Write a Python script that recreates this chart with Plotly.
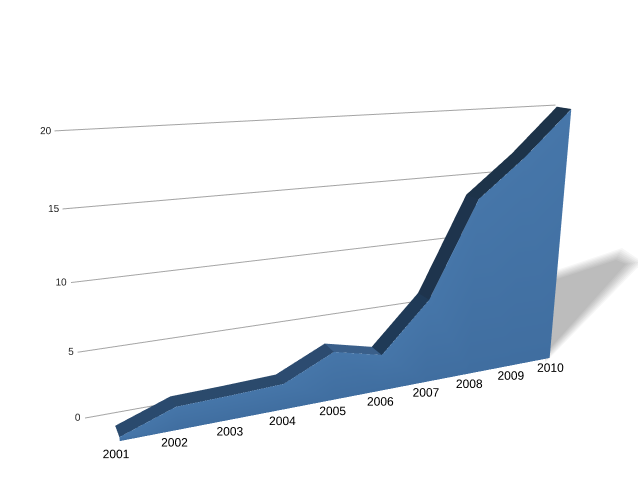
import plotly.graph_objects as go

years = [2001, 2002, 2003, 2004, 2005, 2006, 2007, 2008, 2009, 2010]
values = [0.3, 1.75, 1.85, 2.0, 3.8, 2.9, 6.7, 14.0, 16.85, 20.2]
z_ticks = [0, 5, 10, 15, 20]
strip_colors = ["#2a4a6e", "#2b4a6c", "#2b4a6c", "#2c4b70", "#3a5f8a",
                "#1f3a57", "#1e344d", "#1d3349", "#1d3349"]
strip_depth = 0.4
x_range = [2000.55, 2010.49]
z_range = [0, 21]

W, H = 670, 679
OFFSET_Y = 62
n = len(years)

# front face
fx, fy, fz = [], [], []
for yr, v in zip(years, values):
    fx += [yr, yr]; fy += [0, 0]; fz += [0, v]
fc = ["#4676a9" if j % 2 else "#406ea0" for j in range(2 * n)]
fi, fj, fk = [], [], []
for s in range(n - 1):
    a = 2 * s
    fi += [a, a + 1]; fj += [a + 2, a + 2]; fk += [a + 1, a + 3]

# top strip
tx, ty, tz = [], [], []
for yr, v in zip(years, values):
    tx += [yr, yr]; ty += [0, strip_depth]; tz += [v, v]
ti, tj, tk, tc = [], [], [], []
for s in range(n - 1):
    a = 2 * s
    ti += [a, a + 1]; tj += [a + 2, a + 2]; tk += [a + 1, a + 3]
    tc += [strip_colors[s]] * 2

flat = dict(ambient=1, diffuse=0, specular=0, roughness=1, fresnel=0)

fig = go.Figure()
# gridlines on the back wall
for t in z_ticks:
    fig.add_trace(go.Scatter3d(x=x_range, y=[1, 1], z=[t, t], mode="lines",
                               line=dict(color="#a4a4a4", width=2), hoverinfo="skip"))
fig.add_trace(go.Scatter3d(x=[x_range[0] + 0.1] * len(z_ticks), y=[1] * len(z_ticks), z=z_ticks,
                           mode="text", text=[str(t) for t in z_ticks],
                           textposition="middle left",
                           textfont=dict(family="Liberation Sans", size=10, color="#222222"),
                           hoverinfo="skip"))
fig.add_trace(go.Mesh3d(x=fx, y=fy, z=fz, i=fi, j=fj, k=fk, vertexcolor=fc,
                        lighting=flat, flatshading=True, hoverinfo="skip"))
fig.add_trace(go.Mesh3d(x=tx, y=ty, z=tz, i=ti, j=tj, k=tk, facecolor=tc,
                        lighting=flat, flatshading=True, hoverinfo="skip"))

# soft floor shadow behind the transparent 3D scene: nested translucent layers
outer = [(545, 363), (545, 274), (622, 248), (643, 262)]
inner = [(545, 354), (545, 283), (616, 260), (626, 264)]
LAYERS = 8
for m in range(LAYERS):
    f = m / (LAYERS - 1)
    pts = [(a[0] + (b[0] - a[0]) * f, a[1] + (b[1] - a[1]) * f) for a, b in zip(outer, inner)]
    path = "M " + " L ".join(f"{x/W:.4f},{1-(y+OFFSET_Y)/H:.4f}" for x, y in pts) + " Z"
    fig.add_shape(type="path", path=path, xref="paper", yref="paper", layer="below",
                  fillcolor="rgba(0,0,0,0.034)", line=dict(width=0))

blank = dict(showbackground=False, showspikes=False, zeroline=False,
             showline=False, ticks="", title=dict(text=""))
fig.update_layout(
    width=W, height=H, margin=dict(l=0, r=0, t=0, b=0),
    paper_bgcolor="white", showlegend=False,
    scene=dict(
        domain=dict(x=[0, 1], y=[0, 1]),
        bgcolor="rgba(0,0,0,0)",
        xaxis=dict(blank, range=x_range, showgrid=False, tickangle=0,
                   tickvals=[yr - 0.13 - 0.018 * (yr - 2001) for yr in years],
                   ticktext=[str(yr) for yr in years],
                   tickfont=dict(family="Liberation Sans", size=12, color="black")),
        yaxis=dict(blank, range=[0, 1], showgrid=False, showticklabels=False),
        zaxis=dict(blank, range=z_range, showgrid=False, showticklabels=False),
        aspectmode="manual",
        aspectratio=dict(x=1.104, y=0.123, z=0.6035),
        camera=dict(up=dict(x=0, y=0, z=1),
                    eye=dict(x=-0.676, y=-1.5015, z=0.4742),
                    center=dict(x=-0.0725, y=-0.1015, z=-0.017),
                    projection=dict(type="perspective")),
    ),
)
post = f"""
document.body.style.margin = '0';
document.documentElement.style.overflow = 'hidden';
document.getElementById('{{plot_id}}').style.marginTop = '-{OFFSET_Y}px';
"""
fig.write_html("out.html", config=dict(displayModeBar=False), post_script=post)
